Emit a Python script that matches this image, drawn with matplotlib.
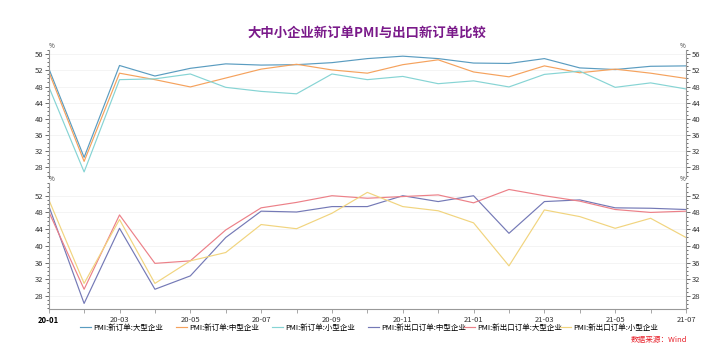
import matplotlib
matplotlib.use("Agg")
import matplotlib.pyplot as plt
from matplotlib.ticker import MultipleLocator, FixedLocator
import numpy as np

plt.rcParams['font.family'] = ['Noto Sans CJK SC', 'DejaVu Sans']

months = ["20-01","20-02","20-03","20-04","20-05","20-06","20-07","20-08","20-09","20-10",
          "20-11","20-12","21-01","21-02","21-03","21-04","21-05","21-06","21-07"]

new_large  = [52.5,30.5,53.2,50.6,52.5,53.6,53.3,53.4,53.9,54.9,55.5,54.9,53.8,53.7,54.9,52.6,52.2,53.0,53.1]
new_medium = [51.7,29.5,51.3,49.7,47.9,50.1,52.3,53.5,52.1,51.3,53.4,54.6,51.6,50.4,53.1,51.4,52.3,51.3,50.0]
new_small  = [48.0,26.9,49.7,49.9,51.1,47.8,46.8,46.2,51.1,49.7,50.5,48.7,49.4,47.9,51.0,51.8,47.8,48.9,47.4]

exp_medium = [49.6,26.2,44.2,29.6,32.8,42.0,48.3,48.1,49.4,49.4,52.0,50.6,52.0,43.0,50.6,51.0,49.1,49.0,48.7]
exp_large  = [48.2,29.6,47.4,35.8,36.4,43.8,49.1,50.4,52.0,51.4,51.8,52.2,50.3,53.5,52.0,50.7,48.7,48.0,48.3]
exp_small  = [51.1,31.0,46.3,31.0,36.4,38.4,45.1,44.1,47.8,52.8,49.4,48.4,45.5,35.2,48.6,47.0,44.2,46.6,42.0]

labels_top = ["PMI:新订单:大型企业","PMI:新订单:中型企业","PMI:新订单:小型企业"]
labels_bot = ["PMI:新出口订单:中型企业","PMI:新出口订单:大型企业","PMI:新出口订单:小型企业"]
colors_top = ["#5a9cc0","#f5a25d","#86d4d4"]
colors_bot = ["#7479b6","#ec8088","#f1d47e"]

W, H = 716, 362
fig = plt.figure(figsize=(W/100, H/100), dpi=100)

left = 48.7/W
width = (686-48.7)/W
ax1 = fig.add_axes([left, 1-178/H, width, (178-49.7)/H])
ax2 = fig.add_axes([left, 1-309.3/H, width, (309.3-183.2)/H])

x = np.arange(len(months))
for vals, c, lab in zip([new_large,new_medium,new_small], colors_top, labels_top):
    ax1.plot(x, vals, color=c, lw=0.85, label=lab)
for vals, c, lab in zip([exp_medium,exp_large,exp_small], colors_bot, labels_bot):
    ax2.plot(x, vals, color=c, lw=0.85, label=lab)

ax1.set_ylim(25.4, 57.1)
ax2.set_ylim(24.8, 55.0)
for ax, ticks in [(ax1, [28,32,36,40,44,48,52,56]), (ax2, [28,32,36,40,44,48,52])]:
    ax.set_xlim(0, len(months)-1)
    ax.yaxis.set_major_locator(FixedLocator(ticks))
    ax.yaxis.set_minor_locator(MultipleLocator(1))
    ax.tick_params(axis='y', which='both', left=True, right=True, labelleft=True, labelright=True,
                   labelsize=5.5, colors='#555555', length=3, width=0.6, pad=1)
    ax.tick_params(axis='y', which='minor', length=1.5)
    for t in ax.get_yticklabels():
        t.set_color('#333333')
    ax.spines['top'].set_visible(False)
    ax.spines['left'].set_color('#999999')
    ax.spines['right'].set_color('#999999')
    ax.spines['left'].set_linewidth(0.8)
    ax.spines['right'].set_linewidth(0.8)
    ax.grid(axis='y', which='major', color='#f2f2f2', lw=0.6)
    ax.set_axisbelow(True)
    ax.text(0.0, 1.0, "%", transform=ax.transAxes, fontsize=4.5, ha='left', va='bottom', color='#333333')
    ax.text(1.0, 1.0, "%", transform=ax.transAxes, fontsize=4.5, ha='right', va='bottom', color='#333333')

ax1.spines['bottom'].set_visible(False)
ax1.set_xticks([])
ax2.spines['bottom'].set_color('#999999')
ax2.spines['bottom'].set_linewidth(0.8)
ax2.set_xticks(x)
ax2.set_xticklabels([m if i % 2 == 0 else "" for i, m in enumerate(months)])
ax2.tick_params(axis='x', labelsize=5.5, length=3, width=0.6, colors='#999999', pad=2)
for i, t in enumerate(ax2.get_xticklabels()):
    t.set_color('#333333')
    if i == 0:
        t.set_fontweight('bold')
        t.set_color('#000000')

fig.text(0.512, 1-33/H, "大中小企业新订单PMI与出口新订单比较", ha='center', va='center',
         fontsize=9.6, fontweight='bold', color='#7a1a8a')

handles = ax1.get_lines() + ax2.get_lines()
x0s = [80, 176, 272, 368, 464, 560]
for h, x0 in zip(handles, x0s):
    fig.legend([h], [h.get_label()], loc='center left', bbox_to_anchor=(x0/W, 1-328/H),
               frameon=False, fontsize=5.4, handlelength=1.5, handletextpad=0.25,
               borderaxespad=0, borderpad=0)

fig.text(687/W, 1-340/H, "数据来源：Wind", ha='right', va='center', fontsize=5.5,
         color='#e8202a', style='italic')

fig.savefig("out.png", dpi=100)
